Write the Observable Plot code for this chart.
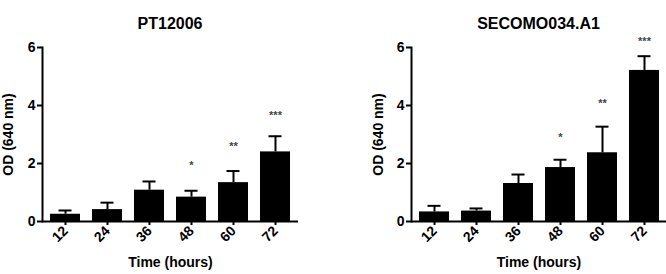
<!DOCTYPE html>
<html>
<head>
<meta charset="utf-8">
<script src="https://cdn.jsdelivr.net/npm/d3@7"></script>
<script src="https://cdn.jsdelivr.net/npm/@observablehq/plot@0.6"></script>
<style>
  html, body { margin: 0; padding: 0; background: #fff; }
  #wrap { display: flex; width: 666px; height: 274px; overflow: hidden; }
  .panel { width: 333px; }
  .title { box-sizing: border-box; height: 36px; padding-top: 15px; line-height: 18px;
           font: bold 16px "Liberation Sans", Arial, sans-serif; text-align: center; color: #000; }
</style>
</head>
<body>
<div id="wrap"></div>
<script>
// ---- data ----
const hours = ["12", "24", "36", "48", "60", "72"];
const stars = ["", "", "", "*", "**", "***"];

const ptTitle = "PT12006";
const ptMean  = [0.25, 0.41, 1.08, 0.84, 1.34, 2.40];
const ptSd    = [0.13, 0.24, 0.30, 0.22, 0.40, 0.54];
const ptStarY = [null, null, null, 2.00, 2.66, 3.72];

const secTitle = "SECOMO034.A1";
const secMean  = [0.33, 0.36, 1.31, 1.86, 2.37, 5.21];
const secSd    = [0.21, 0.09, 0.31, 0.27, 0.90, 0.49];
const secStarY = [null, null, null, 2.97, 4.14, 6.28];

const yTicks = [0, 2, 4, 6];

function panel(title, mean, sd, starY, ml, mr, yLabelOffset) {
  const data = hours.map((t, i) => ({t, m: mean[i], e: mean[i] + sd[i], s: stars[i], sy: starY[i]}));
  const div = document.createElement("div");
  div.className = "panel";
  const ttl = document.createElement("div");
  ttl.className = "title";
  ttl.style.paddingLeft = ml + "px";
  ttl.style.paddingRight = mr + "px";
  ttl.textContent = title;
  div.appendChild(ttl);
  const plot = Plot.plot({
    width: 333,
    height: 238,
    marginTop: 11,
    marginBottom: 53,
    marginLeft: ml,
    marginRight: mr,
    style: {fontFamily: "'Liberation Sans', Arial, sans-serif", fontWeight: "bold", fontSize: "14px", color: "#000", background: "#fff"},
    x: {domain: hours, paddingInner: 0.296, paddingOuter: 0.15},
    y: {domain: [0, 6]},
    marks: [
      Plot.barY(data, {x: "t", y: "m", fill: "#000"}),
      Plot.ruleX(data, {x: "t", y1: "m", y2: "e", stroke: "#000", strokeWidth: 2}),
      Plot.tickY(data, {x: "t", y: "e", stroke: "#000", strokeWidth: 2, insetLeft: 8.5, insetRight: 8.5}),
      Plot.text(data.filter(d => d.s), {x: "t", y: "sy", text: "s", fontSize: 11, fill: "#444", dy: 2}),
      Plot.frame({anchor: "left", stroke: "#000", strokeWidth: 2}),
      Plot.ruleY([0], {stroke: "#000", strokeWidth: 2}),
      Plot.axisY({ticks: yTicks, tickFormat: d3.format("d"), tickSize: 5, tickPadding: 2, strokeWidth: 2, fontSize: 14,
                  label: "OD (640 nm)", labelArrow: "none", labelAnchor: "center", labelOffset: yLabelOffset}),
      Plot.axisX({tickSize: 4, tickPadding: 3, tickRotate: -45, strokeWidth: 2, fontSize: 14,
                  label: "Time (hours)", labelArrow: "none", labelAnchor: "center", labelOffset: 45})
    ]
  });
  div.appendChild(plot);
  document.getElementById("wrap").appendChild(div);
}

panel(ptTitle, ptMean, ptSd, ptStarY, 42, 35, 39);
panel(secTitle, secMean, secSd, secStarY, 78, 0, 38);
</script>
</body>
</html>
